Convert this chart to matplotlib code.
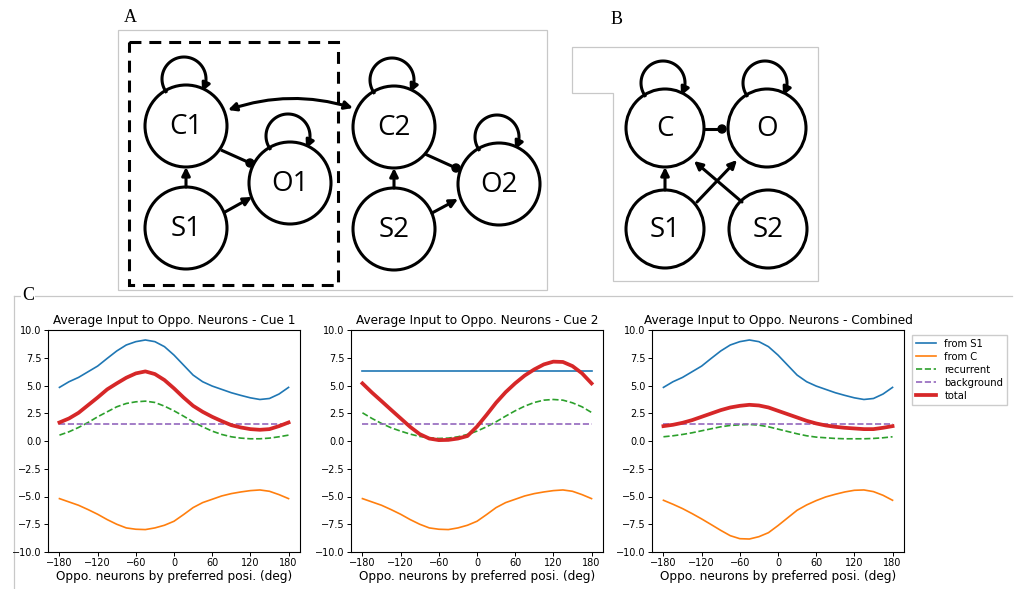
import numpy as np
import matplotlib
matplotlib.use('Agg')
import matplotlib.pyplot as plt
from matplotlib.patches import Circle, Rectangle, Polygon

# preferred position of the opponent neurons (deg)
pos_deg = [-180, -165, -150, -135, -120, -105, -90, -75, -60, -45, -30, -15, 0,
           15, 30, 45, 60, 75, 90, 105, 120, 135, 150, 165, 180]

# Cue 1
cue1_s1 = [4.83, 5.34, 5.73, 6.24, 6.75, 7.44, 8.11, 8.65, 8.95, 9.10, 8.95, 8.50, 7.74,
           6.84, 5.94, 5.34, 4.95, 4.65, 4.35, 4.11, 3.89, 3.74, 3.83, 4.23, 4.83]
cue1_c = [-5.19, -5.49, -5.79, -6.18, -6.60, -7.08, -7.50, -7.83, -7.95, -7.98, -7.83, -7.59, -7.23,
          -6.63, -6.00, -5.55, -5.25, -4.95, -4.74, -4.59, -4.47, -4.41, -4.53, -4.83, -5.19]
cue1_rec = [0.53, 0.83, 1.22, 1.67, 2.18, 2.63, 3.08, 3.38, 3.53, 3.59, 3.47, 3.14, 2.72,
            2.24, 1.73, 1.28, 0.89, 0.59, 0.38, 0.26, 0.20, 0.20, 0.26, 0.38, 0.53]
cue1_bg = [1.5] * 25
cue1_total = [1.67, 2.03, 2.54, 3.23, 3.92, 4.65, 5.19, 5.70, 6.09, 6.27, 6.03, 5.49, 4.74,
              3.92, 3.17, 2.63, 2.18, 1.79, 1.43, 1.22, 1.07, 1.01, 1.07, 1.34, 1.67]

# Cue 2
cue2_s1 = [6.3] * 25
cue2_c = [-5.19, -5.49, -5.79, -6.18, -6.60, -7.08, -7.50, -7.83, -7.95, -7.98, -7.83, -7.59, -7.23,
          -6.63, -6.00, -5.55, -5.25, -4.95, -4.74, -4.59, -4.47, -4.41, -4.53, -4.83, -5.19]
cue2_rec = [2.54, 2.03, 1.58, 1.19, 0.89, 0.62, 0.41, 0.29, 0.23, 0.26, 0.38, 0.59, 0.89,
            1.28, 1.73, 2.24, 2.72, 3.14, 3.47, 3.68, 3.74, 3.68, 3.44, 3.08, 2.57]
cue2_bg = [1.5] * 25
cue2_total = [5.19, 4.36, 3.59, 2.81, 2.04, 1.27, 0.62, 0.22, 0.08, 0.10, 0.22, 0.45, 1.30,
              2.35, 3.45, 4.40, 5.20, 5.90, 6.45, 6.90, 7.15, 7.12, 6.75, 6.10, 5.19]

# Combined
comb_s1 = [4.83, 5.34, 5.73, 6.24, 6.75, 7.44, 8.11, 8.65, 8.95, 9.10, 8.95, 8.50, 7.74,
           6.84, 5.94, 5.34, 4.95, 4.65, 4.35, 4.11, 3.89, 3.74, 3.83, 4.23, 4.83]
comb_c = [-5.34, -5.70, -6.09, -6.54, -7.02, -7.53, -8.05, -8.53, -8.80, -8.83, -8.62, -8.26, -7.62,
          -6.93, -6.24, -5.76, -5.37, -5.04, -4.80, -4.59, -4.44, -4.41, -4.56, -4.89, -5.34]
comb_rec = [0.38, 0.47, 0.59, 0.74, 0.92, 1.10, 1.28, 1.40, 1.46, 1.49, 1.43, 1.28, 1.07,
            0.86, 0.65, 0.47, 0.35, 0.29, 0.23, 0.20, 0.20, 0.20, 0.23, 0.29, 0.38]
comb_bg = [1.5] * 25
comb_total = [1.34, 1.46, 1.64, 1.88, 2.18, 2.48, 2.78, 3.02, 3.17, 3.26, 3.20, 3.02, 2.72,
              2.42, 2.12, 1.82, 1.58, 1.40, 1.28, 1.19, 1.13, 1.07, 1.07, 1.19, 1.34]

titles = ['Average Input to Oppo. Neurons - Cue 1',
          'Average Input to Oppo. Neurons - Cue 2',
          'Average Input to Oppo. Neurons - Combined']
xticks = [-180, -120, -60, 0, 60, 120, 180]
yticks = [-10.0, -7.5, -5.0, -2.5, 0.0, 2.5, 5.0, 7.5, 10.0]

W, H = 1016, 589
fig = plt.figure(figsize=(W / 100, H / 100), dpi=100)

# ---- schematic overlay, in pixel coords ----
ov = fig.add_axes([0, 0, 1, 1])
ov.set_xlim(0, W)
ov.set_ylim(H, 0)
ov.axis('off')

LW = 2.2
gray = '#c8c8c8'
node_font = 'Open Sans'


def node(x, y, r, label):
    ov.add_patch(Circle((x, y), r, fill=False, lw=LW, ec='k'))
    ov.text(x, y + 1, label, ha='center', va='center', fontsize=20, family=node_font)


def arrow(p0, p1, style='-|>', conn='arc3'):
    ov.annotate('', xy=p1, xytext=p0,
                arrowprops=dict(arrowstyle=style, lw=LW, color='k', shrinkA=0, shrinkB=0,
                                mutation_scale=12, connectionstyle=conn))


def inhib(p0, p1):
    ov.plot([p0[0], p1[0]], [p0[1], p1[1]], color='k', lw=LW, solid_capstyle='butt')
    ov.add_patch(Circle(p1, 4, color='k'))


def selfloop(x, y, r):
    lx, ly, lr = x - 2, y - r - 6, 22
    th = np.radians(np.linspace(215, -35, 60))
    xs = lx + lr * np.cos(th)
    ys = ly - lr * np.sin(th)
    ov.plot(xs[:-5], ys[:-5], color='k', lw=LW)
    arrow((xs[-6], ys[-6]), (xs[-1], ys[-1]))


# panel A
ov.add_patch(Rectangle((118, 30), 429, 260, fill=False, ec=gray, lw=0.9))
ov.add_patch(Rectangle((129, 42), 209, 243, fill=False, ec='k', lw=LW, ls=(0, (3.9, 2.6))))
R = 41
nodesA = {'C1': (186, 126), 'S1': (186, 228), 'O1': (290, 183),
          'C2': (394, 127), 'S2': (394, 229), 'O2': (499, 184)}
for k, (x, y) in nodesA.items():
    node(x, y, R, k)
for k in ['C1', 'O1', 'C2', 'O2']:
    selfloop(nodesA[k][0], nodesA[k][1], R)
arrow((186, 187), (186, 167))
arrow((394, 188), (394, 168))
arrow((225, 212), (252, 197))
arrow((432, 213), (458, 199))
inhib((221, 150), (250, 163))
inhib((425, 154), (456, 168))
arrow((228, 110), (353, 108), style='<|-|>', conn='arc3,rad=-0.16')

# panel B
ov.add_patch(Polygon([(572, 47), (818, 47), (818, 281), (613, 281), (613, 93), (572, 93)],
                     closed=True, fill=False, ec=gray, lw=0.9))
Rb = 39
nodesB = {'C': (665, 128), 'O': (767, 128), 'S1': (665, 229), 'S2': (768, 229)}
for k, (x, y) in nodesB.items():
    node(x, y, Rb, k)
for k in ['C', 'O']:
    selfloop(nodesB[k][0], nodesB[k][1], Rb)
arrow((665, 190), (665, 167))
arrow((697, 202), (737, 160))
arrow((742, 202), (694, 161))
inhib((704, 129), (722, 129))

# separator of panel C
ov.plot([14, 1012], [296, 296], color=gray, lw=0.9)
ov.plot([14, 14], [296, H], color=gray, lw=0.9)

for lab, (x, y) in {'A': (130, 17), 'B': (617, 19), 'C': (28, 296)}.items():
    ov.text(x, y, lab, ha='center', va='center', fontsize=13, family='Liberation Serif',
            bbox=dict(fc='white', ec='none', pad=0.5) if lab == 'C' else None)

# ---- panel C plots ----
series = [(cue1_s1, cue1_c, cue1_rec, cue1_bg, cue1_total),
          (cue2_s1, cue2_c, cue2_rec, cue2_bg, cue2_total),
          (comb_s1, comb_c, comb_rec, comb_bg, comb_total)]
lefts = [48, 351, 652]
for i, (s1, c, rec, bg, tot) in enumerate(series):
    ax = fig.add_axes([lefts[i] / W, (H - 552) / H, 252 / W, 222 / H])
    ax.plot(pos_deg, s1, color='#1f77b4', lw=1.2, label='from S1')
    ax.plot(pos_deg, c, color='#ff7f0e', lw=1.2, label='from C')
    ax.plot(pos_deg, rec, '--', color='#2ca02c', lw=1.2, label='recurrent')
    ax.plot(pos_deg, bg, '--', color='#9467bd', lw=1.2, label='background')
    ax.plot(pos_deg, tot, color='#d62728', lw=2.7, label='total')
    ax.set_ylim(-10, 10)
    ax.set_xlim(-198, 198)
    ax.set_xticks(xticks)
    ax.set_yticks(yticks)
    ax.set_yticklabels(['%.1f' % v if v >= 0 else '\u2212%.1f' % -v for v in yticks])
    ax.tick_params(labelsize=7, length=2.6, width=0.7, pad=2)
    for sp in ax.spines.values():
        sp.set_linewidth(0.8)
    ax.set_title(titles[i], fontsize=8.7, pad=4)
    ax.set_xlabel('Oppo. neurons by preferred posi. (deg)', fontsize=8.7, labelpad=1)
    if i == 2:
        ax.legend(loc='upper left', bbox_to_anchor=(1.033, 0.978), borderaxespad=0,
                  fontsize=7.2, labelspacing=0.3, handlelength=2.0, fancybox=False,
                  framealpha=1, edgecolor='#cccccc')

fig.savefig('out.png', dpi=100)
